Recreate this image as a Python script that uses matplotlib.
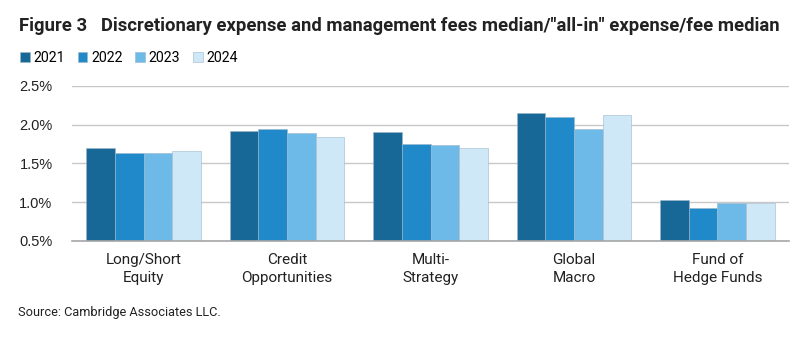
import numpy as np
import matplotlib.pyplot as plt
from matplotlib import font_manager
from matplotlib.ticker import FuncFormatter

# data (percent)
strategies = ["Long/Short\nEquity", "Credit\nOpportunities", "Multi-\nStrategy",
              "Global\nMacro", "Fund of\nHedge Funds"]
years = ["2021", "2022", "2023", "2024"]
fees_2021 = [1.70, 1.92, 1.90, 2.15, 1.03]
fees_2022 = [1.63, 1.95, 1.75, 2.10, 0.92]
fees_2023 = [1.63, 1.89, 1.74, 1.94, 0.99]
fees_2024 = [1.66, 1.84, 1.70, 2.12, 0.99]
y_ticks = [0.5, 1.0, 1.5, 2.0, 2.5]

colors = ["#176896", "#2089c9", "#6dbae8", "#cfe8f7"]

installed = {f.name for f in font_manager.fontManager.ttflist}
narrow = "Liberation Sans Narrow" if "Liberation Sans Narrow" in installed else "Roboto"
plt.rcParams["font.family"] = [narrow, "DejaVu Sans"]

fig = plt.figure(figsize=(8.08, 3.43), dpi=100)
ax = fig.add_axes([0.0891, 0.2974, 0.8874, 0.4519])

series = [fees_2021, fees_2022, fees_2023, fees_2024]
x = np.arange(len(strategies))
width = 0.2
for i, (vals, yr) in enumerate(zip(series, years)):
    ax.bar(x + (i - 1.5) * width, vals, width, color=colors[i], label=yr,
           edgecolor="#9fb6c8", linewidth=0.4, zorder=3)

ax.set_ylim(0.5, 2.5)
ax.set_xlim(-0.5, len(strategies) - 0.5)
ax.set_yticks(y_ticks)
ax.yaxis.set_major_formatter(FuncFormatter(lambda v, p: f"{v:.1f}%"))
ax.set_xticks(x)
ax.set_xticklabels(strategies, fontsize=11, color="#222222", linespacing=1.35)
for lbl in ax.get_yticklabels():
    lbl.set_fontfamily("Liberation Sans")
    lbl.set_fontsize(10.5)
    lbl.set_color("#222222")
ax.tick_params(axis="both", length=0)
ax.tick_params(axis="x", pad=9)
ax.tick_params(axis="y", pad=14)
ax.grid(axis="y", color="#c8c8c8", linewidth=1, zorder=0)
for side in ["top", "right", "left"]:
    ax.spines[side].set_visible(False)
ax.spines["bottom"].set_color("#a6a6a6")
ax.spines["bottom"].set_linewidth(1.2)
ax.spines["bottom"].set_zorder(4)

fig.text(0.0235, 0.925, 'Figure 3   Discretionary expense and management fees median/"all-in" expense/fee median',
         fontsize=13.3, fontweight="bold", color="#222222", va="center")
fig.legend(loc="center left", bbox_to_anchor=(0.0245, 0.832), ncol=4, frameon=False,
           fontsize=10.2, handlelength=0.7, handleheight=0.7, handletextpad=0.25,
           columnspacing=0.9, borderaxespad=0, borderpad=0)
fig.text(0.022, 0.09, "Source: Cambridge Associates LLC.", fontsize=9.2,
         color="#222222", va="center")

fig.savefig("out.png", dpi=100)
